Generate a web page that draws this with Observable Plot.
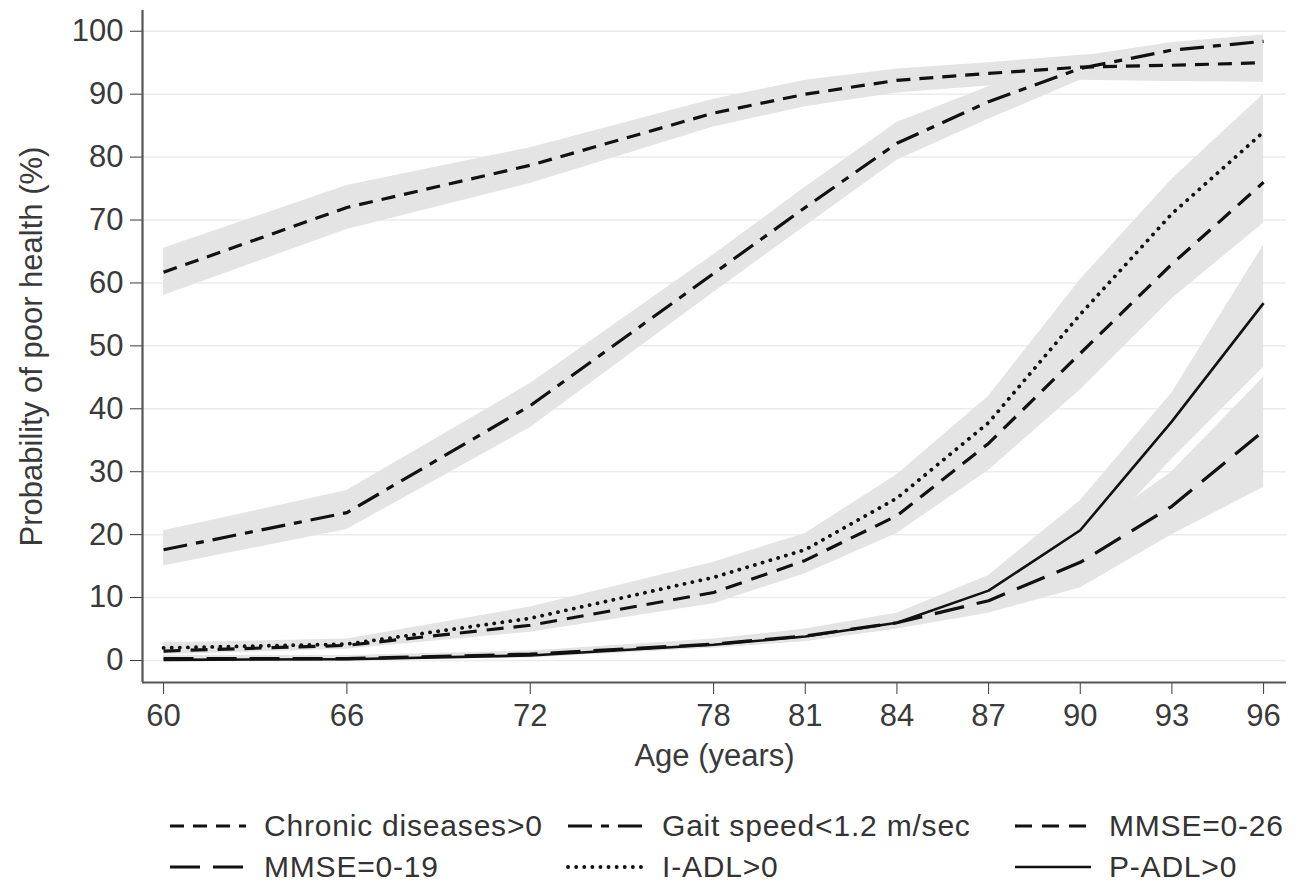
<!DOCTYPE html>
<html><head><meta charset="utf-8">
<script src="https://cdn.jsdelivr.net/npm/d3@7"></script>
<script src="https://cdn.jsdelivr.net/npm/@observablehq/plot@0.6"></script>
<style>
body{margin:0;background:#fff;font-family:"Liberation Sans",Arial,sans-serif;}
#wrap{position:relative;width:1299px;height:885px;overflow:hidden;background:#fff}
#legend{position:absolute;left:0;top:770px;width:1299px;height:115px}
.item{position:absolute;display:flex;align-items:center;height:36px;font-size:30px;line-height:36px;letter-spacing:0.8px;color:#333;white-space:nowrap}
.item svg{margin-right:16px}
</style></head><body><div id="wrap"><div id="chart"></div><div id="legend"></div></div>
<script>
// Ages (x) and tick labels
const ages = [60, 66, 72, 78, 81, 84, 87, 90, 93, 96];
const xTicks = [60, 66, 72, 78, 81, 84, 87, 90, 93, 96];
const yTicks = [0, 10, 20, 30, 40, 50, 60, 70, 80, 90, 100];

// Series names
const seriesNames = ["Chronic diseases>0", "Gait speed<1.2 m/sec", "MMSE=0-26", "MMSE=0-19", "I-ADL>0", "P-ADL>0"];

// Estimated probabilities (%) with confidence bands
const chronic   = [61.7, 72.0, 78.7, 87.0, 90.0, 92.2, 93.3, 94.3, 94.6, 95.0];
const chronicLo = [58.0, 68.5, 75.8, 84.8, 88.0, 90.2, 91.3, 92.2, 92.0, 91.9];
const chronicHi = [65.5, 75.5, 81.5, 89.2, 92.2, 94.0, 95.0, 96.2, 97.0, 97.8];

const gait   = [17.6, 23.5, 40.5, 61.5, 72.0, 82.2, 88.8, 94.1, 97.0, 98.4];
const gaitLo = [15.0, 20.8, 37.0, 58.5, 69.0, 79.5, 86.0, 92.2, 95.5, 97.3];
const gaitHi = [20.6, 27.0, 44.0, 64.5, 75.2, 85.5, 91.2, 96.0, 98.2, 99.4];

const mmse26   = [1.5, 2.4, 5.6, 10.8, 15.9, 23.0, 34.5, 48.8, 63.0, 76.0];
const mmse26Lo = [0.9, 1.8, 4.5, 9.0, 13.8, 20.2, 30.2, 43.0, 57.5, 69.5];
const mmse26Hi = [2.3, 3.2, 7.0, 12.8, 18.2, 26.0, 38.5, 54.0, 68.0, 82.0];

const mmse19   = [0.3, 0.3, 1.0, 2.6, 3.9, 6.0, 9.5, 15.6, 24.5, 36.5];
const mmse19Lo = [0.0, 0.0, 0.5, 2.0, 3.0, 5.0, 7.5, 11.5, 20.0, 27.5];
const mmse19Hi = [0.8, 0.8, 1.5, 3.4, 5.0, 7.5, 12.0, 19.5, 30.0, 45.0];

const iadl   = [2.0, 2.6, 6.7, 13.2, 17.6, 25.8, 37.8, 55.0, 71.0, 84.0];
const iadlLo = [1.4, 2.0, 5.8, 11.2, 15.6, 22.5, 34.0, 50.0, 65.5, 77.5];
const iadlHi = [2.8, 3.4, 8.5, 15.6, 20.2, 29.5, 42.0, 60.5, 76.5, 90.0];

const padl   = [0.1, 0.2, 0.8, 2.5, 3.8, 6.0, 11.1, 20.7, 38.0, 56.8];
const padlLo = [0.0, 0.0, 0.4, 2.0, 3.0, 5.0, 9.0, 16.5, 32.0, 46.6];
const padlHi = [0.5, 0.6, 1.3, 3.3, 4.8, 7.5, 13.5, 25.4, 42.5, 66.0];

// Line styles
const styles = [
  {dash: "14,9", w: 3.2, cap: "butt"},
  {dash: "24,9,8,9", w: 3.2, cap: "butt"},
  {dash: "17,10", w: 3.2, cap: "butt"},
  {dash: "30,13", w: 3.2, cap: "butt"},
  {dash: "0.1,8", w: 3.8, cap: "round"},
  {dash: null, w: 2.6, cap: "butt"}
];

const seriesData = [
  [chronic, chronicLo, chronicHi],
  [gait, gaitLo, gaitHi],
  [mmse26, mmse26Lo, mmse26Hi],
  [mmse19, mmse19Lo, mmse19Hi],
  [iadl, iadlLo, iadlHi],
  [padl, padlLo, padlHi]
];

const rows = [];
seriesNames.forEach((name, si) => {
  const [v, lo, hi] = seriesData[si];
  ages.forEach((a, i) => rows.push({series: name, age: a, v: v[i], lo: lo[i], hi: hi[i]}));
});

const xDomain = [59.31, 96.75];
const yDomain = [-3.5, 103.3];
const ink = "#111";

const lineMarks = seriesNames.map((name, si) => Plot.lineY(rows.filter(r => r.series === name), {
  x: "age", y: "v", stroke: ink, strokeWidth: styles[si].w,
  strokeDasharray: styles[si].dash || undefined, strokeLinecap: styles[si].cap
}));

const chart = Plot.plot({
  width: 1299,
  height: 770,
  marginLeft: 142,
  marginRight: 13,
  marginTop: 10,
  marginBottom: 88,
  style: {fontSize: "31px", fontFamily: "'Liberation Sans', Arial, sans-serif", color: "#3a3a3a", background: "#fff", overflow: "visible"},
  x: {domain: xDomain, ticks: xTicks, tickSize: 12, tickPadding: 9, tickFormat: d => String(d), label: null},
  y: {domain: yDomain, ticks: yTicks, tickSize: 12, tickPadding: 7, tickFormat: d => String(d), label: null},
  marks: [
    Plot.ruleY(yTicks, {stroke: "#ececec", strokeWidth: 1.5}),
    Plot.areaY(rows, {x: "age", y1: "lo", y2: "hi", z: "series", fill: "#e4e4e4"}),
    ...lineMarks,
    Plot.ruleX([xDomain[0]], {stroke: "#555", strokeWidth: 2.2}),
    Plot.ruleY([yDomain[0]], {stroke: "#555", strokeWidth: 2.2}),
    Plot.text(["Age (years)"], {text: d => d, frameAnchor: "bottom", textAnchor: "middle", dy: 83, fontSize: 31, fill: "#3a3a3a"}),
    Plot.text(["Probability of poor health (%)"], {text: d => d, frameAnchor: "left", textAnchor: "middle", rotate: -90, dx: -110, fontSize: 31, fill: "#3a3a3a"})
  ]
});
document.getElementById("chart").appendChild(chart);

// Legend (HTML, below the SVG)
const legendCols = [168, 566, 1013];
const legendRows = [56, 97];
const legend = document.getElementById("legend");
seriesNames.forEach((name, si) => {
  const col = si % 3, row = Math.floor(si / 3);
  const div = document.createElement("div");
  div.className = "item";
  div.style.left = legendCols[col] + "px";
  div.style.top = (legendRows[row] - 18) + "px";
  const st = styles[si];
  div.innerHTML = `<svg width="80" height="12"><line x1="2" y1="6" x2="78" y2="6" stroke="${ink}" stroke-width="${st.w}" ${st.dash ? `stroke-dasharray="${st.dash}"` : ""} stroke-linecap="${st.cap}"/></svg><span>${name.replace(/</g, "&lt;").replace(/>/g, "&gt;")}</span>`;
  legend.appendChild(div);
});
</script></body></html>
